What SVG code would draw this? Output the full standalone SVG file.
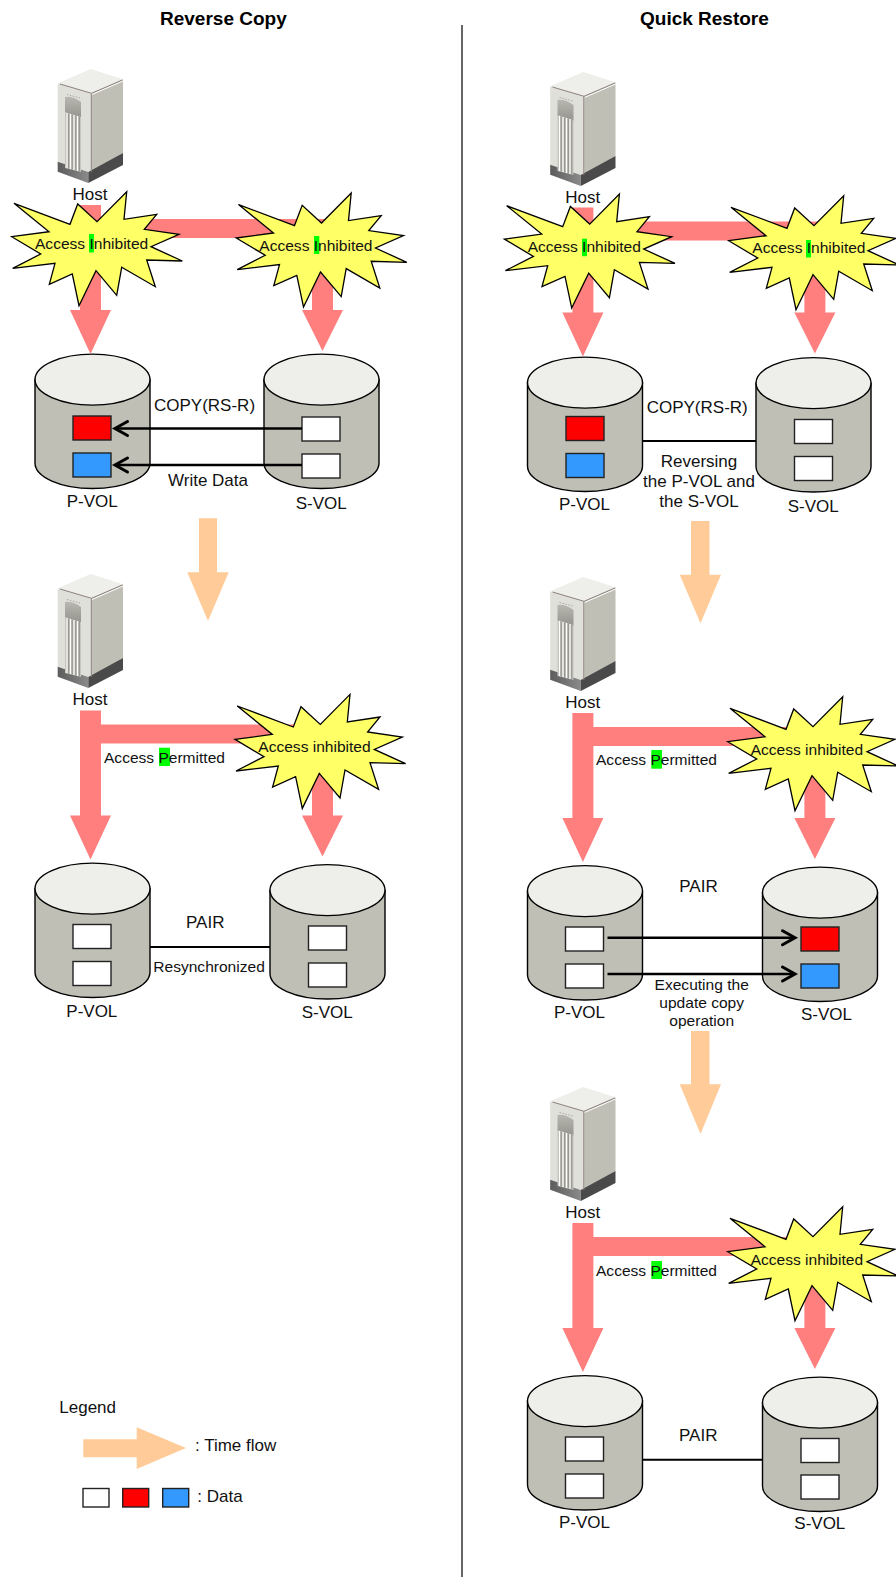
<svg xmlns="http://www.w3.org/2000/svg" xmlns:xlink="http://www.w3.org/1999/xlink" width="896" height="1577" viewBox="0 0 896 1577">
<style>
text{font-family:"Liberation Sans",Arial,sans-serif;fill:#111}
.b{font-size:17px}
.s{font-size:15.55px}
.t{font-size:19px;font-weight:bold;fill:#000}
.c{text-anchor:middle}
.hl{fill:#00FF00}
.red{fill:#FF7F7F}
.time{fill:#FFCC99}
.star{fill:#FFFF66;stroke:#000;stroke-width:1.3;stroke-linejoin:miter}
.body{fill:#BFBFB5;stroke:#000;stroke-width:1.4}
.top{fill:#EEEFEA;stroke:#000;stroke-width:1.4}
.d{stroke:#222;stroke-width:1.4}
.w{fill:#fff}.r{fill:#FF0000}.u{fill:#3399FF}
.ln{stroke:#000;fill:none;stroke-width:2}
.ar{stroke:#000;fill:none;stroke-width:2.4;marker-end:url(#open)}
</style>
<defs>
<marker id="open" markerUnits="userSpaceOnUse" markerWidth="20" markerHeight="20" refX="15" refY="10" orient="auto"><path d="M2.5 3 L15 10 L2.5 17" fill="none" stroke="#000" stroke-width="3" stroke-linecap="round"/></marker>
<linearGradient id="bf" x1="0" x2="1" y1="0" y2="0"><stop offset="0" stop-color="#5c5c5c"/><stop offset="1" stop-color="#8a8a8a"/></linearGradient>
<linearGradient id="pn" x1="0" x2="0" y1="0" y2="1"><stop offset="0" stop-color="#B8B8B0"/><stop offset="1" stop-color="#94948C"/></linearGradient>
<g id="host">
<path d="M57.7 83.3 L90.7 69 L123 79.3 L91.7 93.3Z" fill="#EEEFEA"/>
<path d="M57.7 83.3 L91.7 93.3 V172 L88.3 172 L57.7 161.7Z" fill="#E0E0DA"/>
<path d="M91.7 93.3 L123 79.3 V153 L91.7 172Z" fill="#BFBFB5"/>
<path d="M57.7 161.7 L88.3 172 V183 L57.7 171.7Z" fill="url(#bf)"/>
<path d="M88.3 172 L123 153 V165 L88.3 183Z" fill="#4A4A4A"/>
<path d="M60 84 L91.5 93.3 L122.5 80" fill="none" stroke="#8D8080" stroke-width="1"/>
<path d="M92 94.5 L123 81" fill="none" stroke="#fff" stroke-width="1"/>
<path d="M91.3 93.5 V172" stroke="#8D8080" stroke-width="1"/>
<path d="M65 97 Q73 96 81 102 V118 L65 113Z" fill="url(#pn)"/>
<path d="M65 112 L81 117 V172 L65 168Z" fill="#C6C6BE"/>
<path d="M67 113 V168 M70.5 114 V169 M74 115 V170 M77.5 116 V171" stroke="#fff" stroke-width="1"/>
<path d="M68.7 113.5 V168.5 M72.2 114.5 V169.5 M75.8 115.5 V170.5 M79.3 116.5 V171.5" stroke="#8E8E86" stroke-width="1"/>
<path d="M67 94.5 L80 98" stroke="#A6A69E" stroke-width="1" stroke-dasharray="1.5 1.5"/>
</g>
<path id="redshape" class="red" d="M80 205 H101 V219 H333 V310 H343 L322.5 351 L302 310 H312 V238 H101 V310 H111 L90.5 354 L70 310 H80Z"/>
<polygon id="burst" class="star" points="14,203.3 70,224.3 77.7,204 97,221.7 126.7,191.7 124,219.3 156.7,214.3 144.3,229.3 179,234.3 151,246.7 182.3,261 146.7,260 155.3,286.7 121.7,267.3 116.7,295.3 96,270.7 79,305.7 72.3,274 49.3,284.3 55,263.3 12.7,268.3 40.7,254 11.7,236.7 49,231.7"/>
<path id="cyl" class="body" d="M35 379.6 V463 A57.5 25.5 0 0 0 150 463 V379.6Z"/>
<ellipse id="cyltop" class="top" cx="92.5" cy="379.6" rx="57.5" ry="25.5"/>
</defs>

<g id="divider"><line x1="462" y1="25" x2="462" y2="1577" stroke="#333" stroke-width="1.5"/></g>
<g id="titles"><text class="t" x="160" y="25">Reverse Copy</text><text class="t" x="640" y="25">Quick Restore</text></g>

<g id="vol-l1p"><use href="#cyl"/><use href="#cyltop"/><rect class="d r" x="73" y="416" width="38" height="24"/><rect class="d u" x="73" y="453" width="38" height="24"/></g>
<g id="vol-l1s"><use href="#cyl" x="229"/><use href="#cyltop" x="229"/><rect class="d w" x="302" y="417" width="38" height="24"/><rect class="d w" x="302" y="454" width="38" height="24"/></g>
<g id="vol-l2p"><use href="#cyl" y="509"/><use href="#cyltop" y="509"/><rect class="d w" x="73" y="924.5" width="38" height="24"/><rect class="d w" x="73" y="961.5" width="38" height="24"/></g>
<g id="vol-l2s"><use href="#cyl" x="235" y="510.5"/><use href="#cyltop" x="235" y="510.5"/><rect class="d w" x="308.5" y="926" width="38" height="24"/><rect class="d w" x="308.5" y="963" width="38" height="24"/></g>
<g id="vol-r1p"><use href="#cyl" x="492.5" y="3"/><use href="#cyltop" x="492.5" y="3"/><rect class="d r" x="566" y="416.5" width="38" height="24"/><rect class="d u" x="566" y="453.5" width="38" height="24"/></g>
<g id="vol-r1s"><use href="#cyl" x="721" y="3.5"/><use href="#cyltop" x="721" y="3.5"/><rect class="d w" x="794.5" y="419.5" width="38" height="24"/><rect class="d w" x="794.5" y="456.5" width="38" height="24"/></g>
<g id="vol-r2p"><use href="#cyl" x="492.5" y="511.5"/><use href="#cyltop" x="492.5" y="511.5"/><rect class="d w" x="565.5" y="927" width="38" height="24"/><rect class="d w" x="565.5" y="964" width="38" height="24"/></g>
<g id="vol-r2s"><use href="#cyl" x="727.5" y="513"/><use href="#cyltop" x="727.5" y="513"/><rect class="d r" x="801" y="927" width="38" height="24"/><rect class="d u" x="801" y="964" width="38" height="24"/></g>
<g id="vol-r3p"><use href="#cyl" x="492.5" y="1021.5"/><use href="#cyltop" x="492.5" y="1021.5"/><rect class="d w" x="565.5" y="1437" width="38" height="24"/><rect class="d w" x="565.5" y="1474" width="38" height="24"/></g>
<g id="vol-r3s"><use href="#cyl" x="727.5" y="1023"/><use href="#cyltop" x="727.5" y="1023"/><rect class="d w" x="801" y="1438.5" width="38" height="24"/><rect class="d w" x="801" y="1475" width="38" height="24"/></g>

<g id="host-l1"><use href="#host"/></g>
<g id="host-l2"><use href="#host" y="505"/></g>
<g id="host-r1"><use href="#host" x="492.5" y="3"/></g>
<g id="host-r2"><use href="#host" x="492.5" y="508"/></g>
<g id="host-r3"><use href="#host" x="492.5" y="1018"/></g>

<g id="connectors">
<use href="#redshape"/>
<use href="#redshape" y="505.5"/>
<use href="#redshape" x="492.4" y="2.5"/>
<use href="#redshape" x="492.4" y="508"/>
<use href="#redshape" x="492.4" y="1018"/>
<line class="ar" x1="302" y1="428.5" x2="115" y2="428.5"/>
<line class="ar" x1="302" y1="465" x2="115" y2="465"/>
<line class="ln" x1="150" y1="947" x2="270" y2="947"/>
<line class="ln" x1="642" y1="441" x2="756" y2="441"/>
<line class="ar" x1="607.5" y1="937.7" x2="795" y2="937.7"/>
<line class="ar" x1="607.5" y1="974" x2="795" y2="974"/>
<line class="ln" x1="642" y1="1459.7" x2="763" y2="1459.7"/>
<polygon class="time" points="199,518.3 217,518.3 217,572.3 228.7,572.3 208,621 187.3,572.3 199,572.3"/>
<polygon class="time" points="691,521 709.5,521 709.5,574.7 721,574.7 700.5,623.3 679.7,574.7 691,574.7"/>
<polygon class="time" points="691,1031 709.5,1031 709.5,1084.3 721,1084.3 700.5,1134 679.7,1084.3 691,1084.3"/>
</g>

<g id="star-l1a"><use href="#burst"/><rect class="hl" x="89" y="234" width="5" height="18.5"/><text class="s" x="35" y="249">Access Inhibited</text></g>
<g id="star-l1b"><use href="#burst" x="224.5" y="1.3"/><rect class="hl" x="314" y="236" width="5.3" height="18"/><text class="s" x="259.3" y="250.7">Access Inhibited</text></g>
<g id="star-r1a"><use href="#burst" x="492.7" y="2.4"/><rect class="hl" x="582" y="238.7" width="5" height="17.5"/><text class="s" x="527.7" y="252">Access Inhibited</text></g>
<g id="star-r1b"><use href="#burst" x="717" y="4"/><rect class="hl" x="806" y="240" width="5" height="17.5"/><text class="s" x="752.3" y="253.3">Access Inhibited</text></g>
<g id="star-l2"><use href="#burst" x="223.3" y="502.7"/><text class="s" x="258.3" y="752">Access inhibited</text></g>
<g id="star-r2"><use href="#burst" x="716" y="505"/><text class="s" x="750.7" y="755">Access inhibited</text></g>
<g id="star-r3"><use href="#burst" x="716" y="1015"/><text class="s" x="750.7" y="1265">Access inhibited</text></g>

<g id="labels">
<text class="b c" x="90" y="200">Host</text>
<text class="b c" x="90" y="705">Host</text>
<text class="b c" x="582.7" y="202.5">Host</text>
<text class="b c" x="582.7" y="708">Host</text>
<text class="b c" x="582.7" y="1218">Host</text>
<rect class="hl" x="159" y="747.7" width="11" height="18.3"/><text class="s" x="104" y="762.7">Access Permitted</text>
<rect class="hl" x="651.3" y="750" width="10.7" height="18.7"/><text class="s" x="596" y="765">Access Permitted</text>
<rect class="hl" x="651.3" y="1261" width="10.7" height="18"/><text class="s" x="596" y="1276">Access Permitted</text>
<text class="b" x="154" y="411">COPY(RS-R)</text>
<text class="b" x="168" y="485.7">Write Data</text>
<text class="b" x="66.7" y="507.3">P-VOL</text>
<text class="b" x="295.7" y="509">S-VOL</text>
<text class="b" x="186" y="927.7">PAIR</text>
<text class="s" x="153.3" y="972">Resynchronized</text>
<text class="b" x="66.3" y="1016.7">P-VOL</text>
<text class="b" x="301.7" y="1017.7">S-VOL</text>
<text class="b" x="646.7" y="413.3">COPY(RS-R)</text>
<text class="b c" x="699" y="467.3">Reversing</text>
<text class="b c" x="699" y="487.3">the P-VOL and</text>
<text class="b c" x="699" y="506.7">the S-VOL</text>
<text class="b" x="559" y="510">P-VOL</text>
<text class="b" x="787.7" y="511.7">S-VOL</text>
<text class="b" x="679.3" y="892">PAIR</text>
<text class="s c" x="701.7" y="990">Executing the</text>
<text class="s c" x="701.7" y="1008.3">update copy</text>
<text class="s c" x="701.7" y="1025.7">operation</text>
<text class="b" x="554" y="1018.3">P-VOL</text>
<text class="b" x="801" y="1020">S-VOL</text>
<text class="b" x="679" y="1441">PAIR</text>
<text class="b" x="559" y="1528.3">P-VOL</text>
<text class="b" x="794.3" y="1529.3">S-VOL</text>
</g>

<g id="legend">
<text class="b" x="59.3" y="1412.7">Legend</text>
<polygon class="time" points="83.3,1439.3 136.7,1439.3 136.7,1427.3 186,1448 136.7,1469 136.7,1457.3 83.3,1457.3"/>
<text class="b" x="195" y="1450.7">: Time flow</text>
<rect class="d w" x="83" y="1488.5" width="26" height="18.5"/>
<rect class="d r" x="122.7" y="1488.5" width="26" height="18.5"/>
<rect class="d u" x="162.7" y="1488.5" width="26" height="18.5"/>
<text class="b" x="197.3" y="1502">: Data</text>
</g>
</svg>
